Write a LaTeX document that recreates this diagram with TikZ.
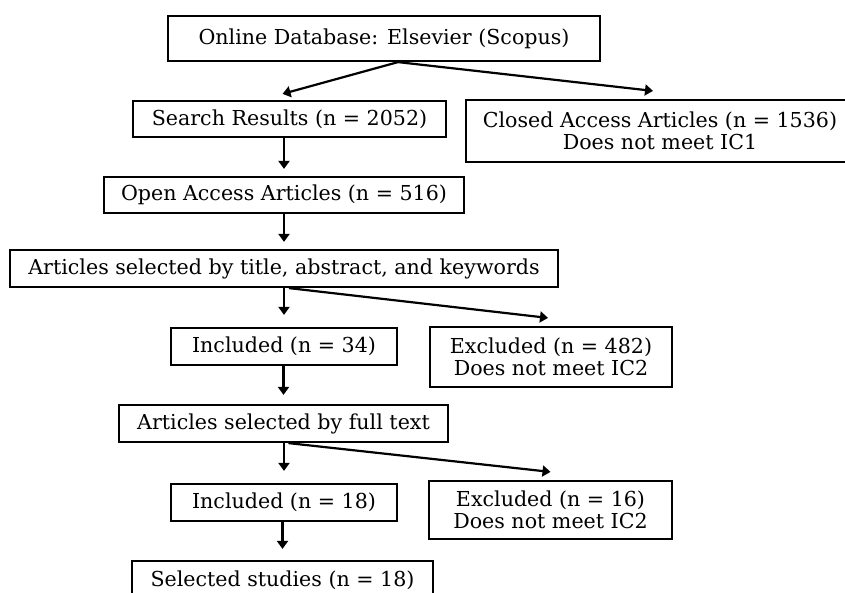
\documentclass[tikz,border=0pt]{standalone}
\usepackage{fontspec}
\setmainfont{DejaVu Serif}
\usepackage{tikz}
\usetikzlibrary{arrows.meta}

\begin{document}
\begin{tikzpicture}
	[x=1pt,y=-1pt,
	 box/.style={draw,line width=2.2pt,inner sep=0pt,align=center,
	   font=\fontsize{20.6}{22}\selectfont},
	 arr/.style={-{Triangle[length=8pt,width=11pt]},line width=2.2pt}]
\useasboundingbox (0,0) rectangle (845,592);
% boxes, centred on the measured positions
\node[box,minimum width=432pt,minimum height=45pt] (db) at (384,38.5) {Online Database: Elsevier (Scopus)};
\node[box,minimum width=313pt,minimum height=36pt] (search) at (289.5,119) {Search Results (n = 2052)};
\node[box,minimum width=388pt,minimum height=62pt] (closed) at (660,131) {Closed Access Articles (n = 1536)\\Does not meet IC1};
\node[box,minimum width=360pt,minimum height=36pt] (open) at (284,195) {Open Access Articles (n = 516)};
\node[box,minimum width=548pt,minimum height=37pt] (title) at (284,268.5) {Articles selected by title, abstract, and keywords};
\node[box,minimum width=226pt,minimum height=37pt] (incA) at (284,346.5) {Included (n = 34)};
\node[box,minimum width=242pt,minimum height=60pt] (excA) at (551,357) {Excluded (n = 482)\\Does not meet IC2};
\node[box,minimum width=329pt,minimum height=37pt] (full) at (283.5,423.5) {Articles selected by full text};
\node[box,minimum width=226pt,minimum height=37pt] (incB) at (284,502.5) {Included (n = 18)};
\node[box,minimum width=243pt,minimum height=58pt] (excB) at (550.5,510) {Excluded (n = 16)\\Does not meet IC2};
\node[box,minimum width=301pt,minimum height=38pt] (sel) at (282.5,580) {Selected studies (n = 18)};
% straight down
\foreach \a/\b/\g in {search/open/7,open/title/7,title/incA/12,incA/full/9,full/incB/12,incB/sel/11}
\draw[arr,shorten >=\g pt] (\a.south -| \b.north) -- (\b.north);
% side branches
\draw[arr] ([xshift=14pt]db.south) -- ([xshift=-7pt,yshift=6pt]search.north);
\draw[arr] ([xshift=14pt]db.south) -- ([xshift=-7pt,yshift=8pt]closed.north);
\draw[arr] ([xshift=5pt]title.south) -- ([xshift=-3pt,yshift=8pt]excA.north);
\draw[arr] ([xshift=5pt]full.south) -- ([yshift=8pt]excB.north);
\end{tikzpicture}
\end{document}
